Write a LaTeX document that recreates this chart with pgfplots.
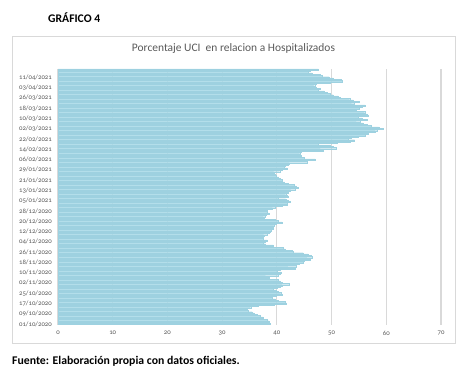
\documentclass[border=0pt]{standalone}
\usepackage{fontspec}
\setmainfont{Carlito}
\newfontfamily\tickfont[Numbers=OldStyle]{Carlito}
\usepackage{pgfplots}
\usepackage{pgfplotstable}
\pgfplotsset{compat=1.18}
\definecolor{barfill}{RGB}{166,216,230}
\definecolor{baredge}{RGB}{158,209,224}
\definecolor{gridc}{RGB}{217,217,217}
\definecolor{txtg}{RGB}{89,89,89}
\pgfplotstableread{
i v
0 38.8
1 38.6
2 38.5
3 38.2
4 37.5
5 37.4
6 37.0
7 36.4
8 35.8
9 35.5
10 34.7
11 33.6
12 34.5
13 35.2
14 36.6
15 39.5
16 41.7
17 41.5
18 40.3
19 39.7
20 39.2
21 38.8
22 39.8
23 40.9
24 40.7
25 40.2
26 39.8
27 39.4
28 40.0
29 40.5
30 40.9
31 42.2
32 41.0
33 40.6
34 40.3
35 37.8
36 38.5
37 37.9
38 40.2
39 40.5
40 40.8
41 40.1
42 40.6
43 43.3
44 42.0
45 43.6
46 43.0
47 44.0
48 44.8
49 44.9
50 46.1
51 45.5
52 46.5
53 46.3
54 45.7
55 44.8
56 43.0
57 42.7
58 41.5
59 41.2
60 39.4
61 39.3
62 37.9
63 37.5
64 37.8
65 38.2
66 37.5
67 37.3
68 37.5
69 37.6
70 38.2
71 38.5
72 38.8
73 39.0
74 39.3
75 39.2
76 39.4
77 39.5
78 39.8
79 40.9
80 40.2
81 39.7
82 37.6
83 37.5
84 37.8
85 38.1
86 38.5
87 38.2
88 38.0
89 38.3
90 39.2
91 39.7
92 41.0
93 41.8
94 41.9
95 42.4
96 42.1
97 41.6
98 40.3
99 42.1
100 41.8
101 41.6
102 42.0
103 42.0
104 42.5
105 43.3
106 43.9
107 43.5
108 43.2
109 42.0
110 41.4
111 41.0
112 40.9
113 40.6
114 40.3
115 39.9
116 39.7
117 39.5
118 39.4
119 40.5
120 41.0
121 41.8
122 41.3
123 41.5
124 42.1
125 42.3
126 45.5
127 45.0
128 47.0
129 45.0
130 44.2
131 44.5
132 44.1
133 44.3
134 44.4
135 48.5
136 47.9
137 50.8
138 50.2
139 49.7
140 47.6
141 51.0
142 53.3
143 54.2
144 53.0
145 53.6
146 54.8
147 56.1
148 56.7
149 56.2
150 57.9
151 58.3
152 59.4
153 58.6
154 57.3
155 56.5
156 55.8
157 54.5
158 55.2
159 56.4
160 55.6
161 54.8
162 56.7
163 56.5
164 55.9
165 56.2
166 52.7
167 54.5
168 55.0
169 55.5
170 56.1
171 53.6
172 54.2
173 55.0
174 54.0
175 53.3
176 51.5
177 51.2
178 50.3
179 49.7
180 49.2
181 48.7
182 47.6
183 47.9
184 47.2
185 46.7
186 46.9
187 47.1
188 49.8
189 52.0
190 51.8
191 50.3
192 49.5
193 48.3
194 47.9
195 46.4
196 45.7
197 46.1
198 47.6
}\datatable
\begin{document}
\begin{tikzpicture}[x=1bp,y=1bp]
\path[use as bounding box] (0,0) rectangle (471,383);
\draw[gridc, line width=0.75bp] (12,40) rectangle (455,347);
\node[anchor=west, font=\fontsize{11.7}{14}\selectfont\bfseries, inner sep=0] at (48,365) {GRÁFICO 4};
\node[font=\fontsize{11.5}{14}\selectfont, text=txtg, inner sep=0] at (233.5,334) {Porcentaje UCI\ \ en relacion a Hospitalizados};
\node[anchor=west, font=\fontsize{11.8}{14}\selectfont\bfseries, inner sep=0] at (12,22) {Fuente: Elaboración propia con datos oficiales.};
\begin{axis}[
  at={(58bp,58.5bp)}, anchor=south west, scale only axis,
  width=383bp, height=255.5bp,
  xmin=0, xmax=70, ymin=-0.5, ymax=198.5,
  xbar, bar width=1,
  axis line style={draw=none},
  major tick length=0,
  xmajorgrids, major grid style={gridc, line width=1.2bp},
  xtick={0,10,...,70},
  /pgf/number format/assume math mode=true,
  ytick={0,8,...,192},
  yticklabels={01/10/2020,09/10/2020,17/10/2020,25/10/2020,02/11/2020,10/11/2020,18/11/2020,26/11/2020,04/12/2020,12/12/2020,20/12/2020,28/12/2020,05/01/2021,13/01/2021,21/01/2021,29/01/2021,06/02/2021,14/02/2021,22/02/2021,02/03/2021,10/03/2021,18/03/2021,26/03/2021,03/04/2021,11/04/2021},
  yticklabel style={font=\tickfont\fontsize{6.8}{8}\selectfont, text=txtg, anchor=east, inner sep=0pt, xshift=-6bp},
  xticklabel style={font=\tickfont\fontsize{6.8}{8}\selectfont, text=txtg, anchor=north, inner sep=0pt, yshift=-6bp},
]
\addplot[fill=barfill, fill opacity=0.85, draw=baredge, line width=0.2bp] table[x=v,y=i]{\datatable};
\end{axis}
\end{tikzpicture}
\end{document}
